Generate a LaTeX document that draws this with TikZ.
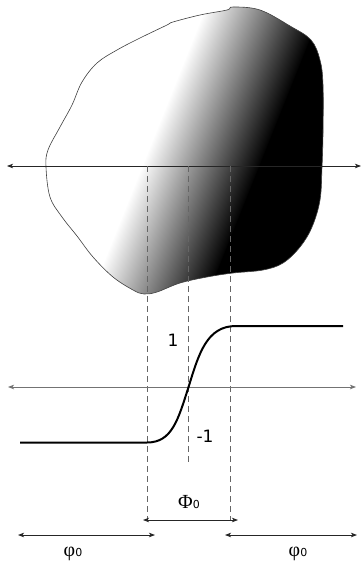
\documentclass[tikz,border=0pt]{standalone}
\usepackage{fontspec}
\setmainfont{Liberation Serif}
\newfontfamily\dv{DejaVu Sans}
\usetikzlibrary{arrows.meta}
\tikzset{
  tip/.style={{Stealth[length=6pt,width=4.5pt,inset=1.5pt]}-{Stealth[length=6pt,width=4.5pt,inset=1.5pt]}},
  axisline/.style={tip, line width=0.8pt, draw=black!85},
  grayaxis/.style={tip, line width=0.9pt, draw=black!55},
  guide/.style={draw=black!60, line width=0.7pt, dash pattern=on 6pt off 4pt},
  stepcurve/.style={line width=2pt, draw=black},
  numlabel/.style={font=\dv\fontsize{17}{17}\selectfont, inner sep=0pt},
  greek/.style={font=\fontsize{20}{20}\selectfont, inner sep=0pt, anchor=base},
}
\newcommand{\subz}{{\dv\fontsize{11}{11}\selectfont 0}}
\begin{document}
\begin{tikzpicture}[x=1pt,y=-1pt]
\useasboundingbox (0,0) rectangle (362,562);
\def\blob{plot[smooth cycle, tension=0.6] coordinates {(233,7) (260,10) (290,26) (311,40) (320,60) (323,85) (323,133) (322,167) (320,200) (312,227) (300,247) (283,263) (263,270) (233,273) (207,277) (180,283) (157,292) (144,294) (133,290) (113,277) (93,257) (77,236) (62,217) (50,197) (46,167) (48,150) (60,127) (72,105) (82,82) (97,63) (117,50) (140,38) (167,25) (173,22) (200,15) (227,10)}}
\begin{scope}
  \clip \blob;
  \begin{scope}[transform canvas={shift={(200,20)}, rotate=-21.8}]
    \fill[white] (-500,-500) rectangle (0.5,500);
    \shade[left color=white, right color=black] (0,-500) rectangle (110,500);
    \fill[black] (109.5,-500) rectangle (500,500);
  \end{scope}
\end{scope}
\draw[black!75, line width=0.6pt] \blob;

% axes
\coordinate (a1l) at (7,166);
\coordinate (a1r) at (361,166);
\draw[axisline] (a1l) -- (a1r);

% guides
\coordinate (g1t) at (147,166);  \coordinate (g1b) at (147,520);
\coordinate (g2t) at (188.7,166); \coordinate (g2b) at (188.7,463);
\coordinate (g3t) at (230.7,166); \coordinate (g3b) at (230.7,520);
\draw[guide] (g1t) -- (g1b);
\draw[guide] (g2t) -- (g2b);
\draw[guide] (g3t) -- (g3b);

\coordinate (a2l) at (8,387);
\coordinate (a2r) at (356,387);
\draw[grayaxis] (a2l) -- (a2r);

% step curve
\coordinate (s0) at (20,442.5);
\coordinate (s1) at (147,442.5);
\coordinate (s2) at (188.7,386.5);
\coordinate (s3) at (236,326);
\coordinate (s4) at (343,326);
\draw[stepcurve] (s0) -- (s1) .. controls (172,442.5) and (178,420) .. (s2)
  .. controls (199,353) and (207,326) .. (s3) -- (s4);

\node[numlabel] (one) at (173,340) {1};
\node[numlabel] (mone) at (205,436) {-1};

% bottom arrows
\coordinate (pl) at (143,520);
\coordinate (pr) at (238,520);
\draw[axisline] (pl) -- (pr);
\coordinate (ll) at (18,535);
\coordinate (lr) at (155,535);
\draw[axisline] (ll) -- (lr);
\coordinate (rl) at (225,535);
\coordinate (rr) at (357,535);
\draw[axisline] (rl) -- (rr);

\node[greek] (Phi) at (189,508) {Φ\subz};
\node[greek] (phil) at (73,556) {φ\subz};
\node[greek] (phir) at (298,556) {φ\subz};
\end{tikzpicture}
\end{document}
